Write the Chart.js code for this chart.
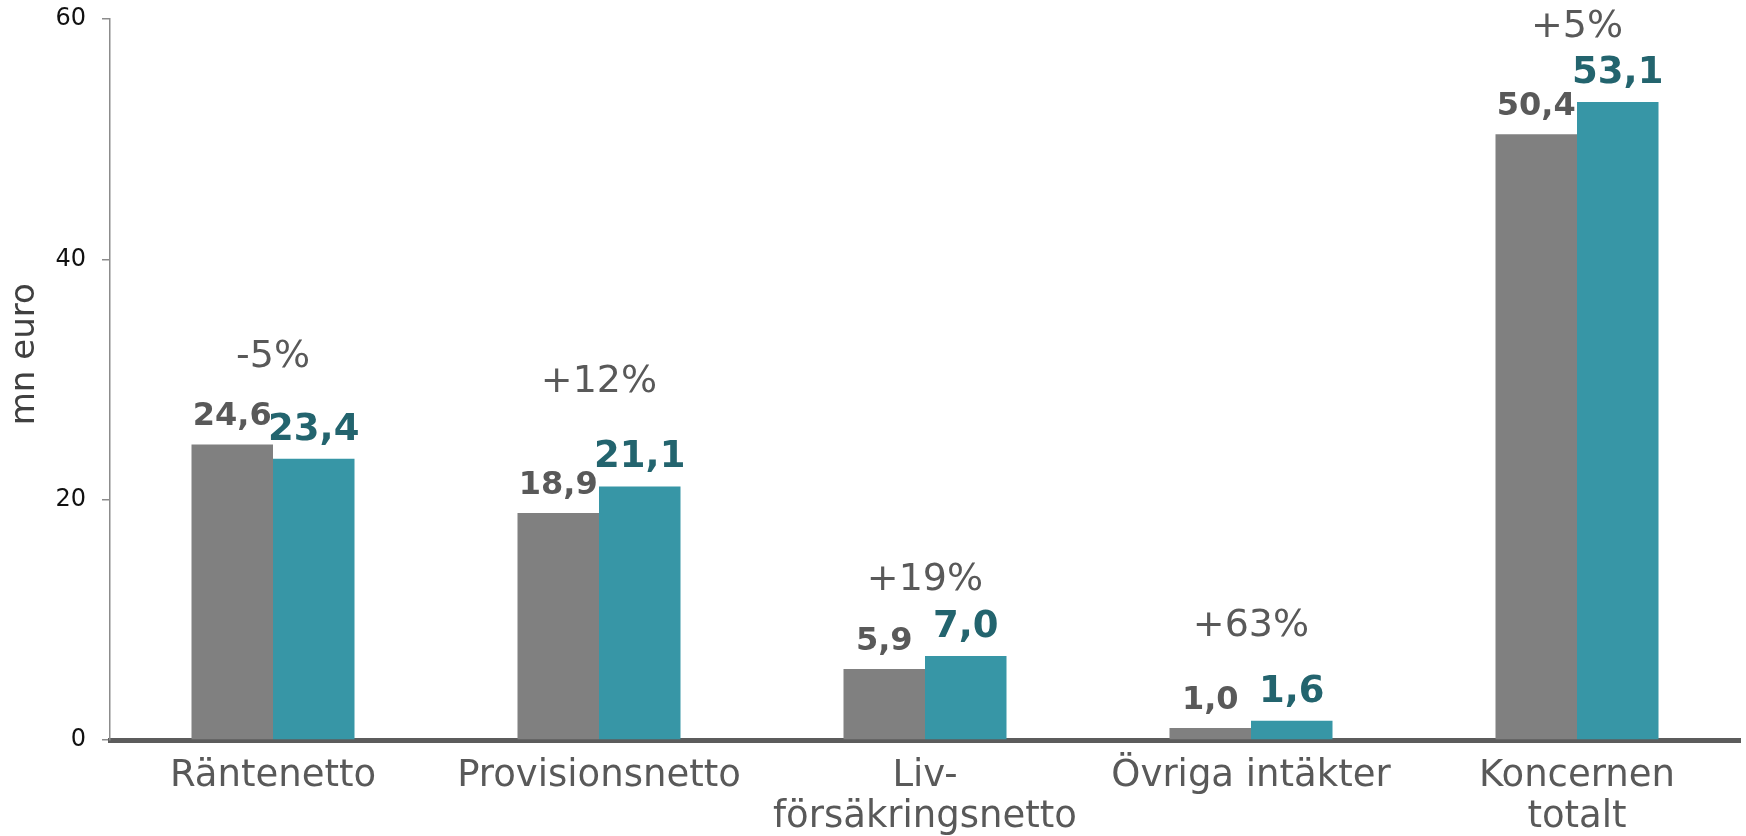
<!DOCTYPE html>
<html>
<head>
<meta charset="utf-8">
<script src="https://cdn.jsdelivr.net/npm/chart.js@4"></script>
<style>
    body { margin: 0; background: #fff; }
</style>
</head>
<body>
<canvas id="incomeChart" width="1746" height="836"></canvas>
<script>
const categories = ['Räntenetto', 'Provisionsnetto', ['Liv-', 'försäkringsnetto'], 'Övriga intäkter', ['Koncernen', 'totalt']];
const previousYear = [24.6, 18.9, 5.9, 1.0, 50.4];
const currentYear = [23.4, 21.1, 7.0, 1.6, 53.1];
const changeLabels = ['-5%', '+12%', '+19%', '+63%', '+5%'];
const yTicks = [0, 20, 40, 60];
const yTitle = 'mn euro';

const FONT = "'DejaVu Sans', Verdana, sans-serif";

// bold value labels above each bar
const valueLabels = {
    id: 'valueLabels',
    afterDatasetsDraw(chart, args, opts) {
        const ctx = chart.ctx;
        ctx.save();
        ctx.textAlign = 'center';
        ctx.textBaseline = 'alphabetic';
        chart.data.datasets.forEach((ds, i) => {
            const meta = chart.getDatasetMeta(i);
            const style = opts.styles[i];
            ctx.font = 'bold ' + style.size + 'px ' + FONT;
            ctx.fillStyle = style.color;
            meta.data.forEach((bar, j) => {
                const txt = ds.data[j].toFixed(1).replace('.', ',');
                ctx.fillText(txt, bar.x, bar.y - opts.gap);
            });
        });
        ctx.restore();
    }
};

// change in percent, one per category
const changeText = {
    id: 'changeText',
    afterDatasetsDraw(chart, args, opts) {
        const ctx = chart.ctx;
        const x = chart.scales.x;
        const y = chart.scales.y;
        ctx.save();
        ctx.font = opts.size + 'px ' + FONT;
        ctx.fillStyle = opts.color;
        ctx.textAlign = 'center';
        ctx.textBaseline = 'middle';
        changeLabels.forEach((txt, i) => {
            ctx.fillText(txt, x.getPixelForValue(i), y.getPixelForValue(opts.levels[i]));
        });
        ctx.restore();
    }
};

// y axis title, sits a bit above the middle of the axis
const axisTitle = {
    id: 'axisTitle',
    afterDraw(chart, args, opts) {
        const ctx = chart.ctx;
        const area = chart.chartArea;
        ctx.save();
        ctx.translate(opts.x, area.top + (area.bottom - area.top) * opts.pos);
        ctx.rotate(-Math.PI / 2);
        ctx.font = opts.size + 'px ' + FONT;
        ctx.fillStyle = opts.color;
        ctx.textAlign = 'center';
        ctx.textBaseline = 'middle';
        ctx.fillText(yTitle, 0, 0);
        ctx.restore();
    }
};

const chartContext = document.getElementById('incomeChart').getContext('2d');
const chart = new Chart(chartContext, {
    type: 'bar',
    data: {
        labels: categories,
        datasets: [
            {
                label: 'Föregående år',
                data: previousYear,
                backgroundColor: '#808080',
                barPercentage: 1,
                categoryPercentage: 0.5
            },
            {
                label: 'Innevarande år',
                data: currentYear,
                backgroundColor: '#3796a6',
                barPercentage: 1,
                categoryPercentage: 0.5
            }
        ]
    },
    plugins: [valueLabels, changeText, axisTitle],
    options: {
        responsive: false,
        animation: false,
        layout: {
            padding: { top: 19, right: 6, left: 0, bottom: 0 }
        },
        plugins: {
            legend: { display: false },
            tooltip: { enabled: false },
            valueLabels: {
                gap: 19,
                styles: [
                    { size: 32, color: '#595959' },
                    { size: 37, color: '#23646e' }
                ]
            },
            changeText: {
                size: 38,
                color: '#595959',
                levels: [31.9, 29.8, 13.3, 9.5, 59.3]
            },
            axisTitle: {
                x: 25,
                pos: 0.465,
                size: 34,
                color: '#404040'
            }
        },
        scales: {
            x: {
                z: 1,
                afterFit(scale) { scale.height = 96; },
                grid: { display: true, drawOnChartArea: false, drawTicks: false },
                border: { display: true, color: '#5c5c5c', width: 5 },
                ticks: {
                    color: '#595959',
                    padding: 16,
                    font: { family: FONT, size: 37, lineHeight: 1.1 }
                }
            },
            y: {
                min: 0,
                max: 60,
                afterFit(scale) {
                    scale.width = 110;
                    scale.paddingTop = 0;
                    scale.paddingBottom = 0;
                },
                afterBuildTicks(scale) { scale.ticks = yTicks.map(v => ({ value: v })); },
                grid: { drawOnChartArea: false, drawTicks: true, tickLength: 8, color: '#8c8c8c', lineWidth: 1.5 },
                border: { display: true, color: '#8c8c8c', width: 1.5 },
                ticks: {
                    color: '#111111',
                    padding: 16,
                    font: { family: FONT, size: 24 }
                }
            }
        }
    }
});
</script>
</body>
</html>
